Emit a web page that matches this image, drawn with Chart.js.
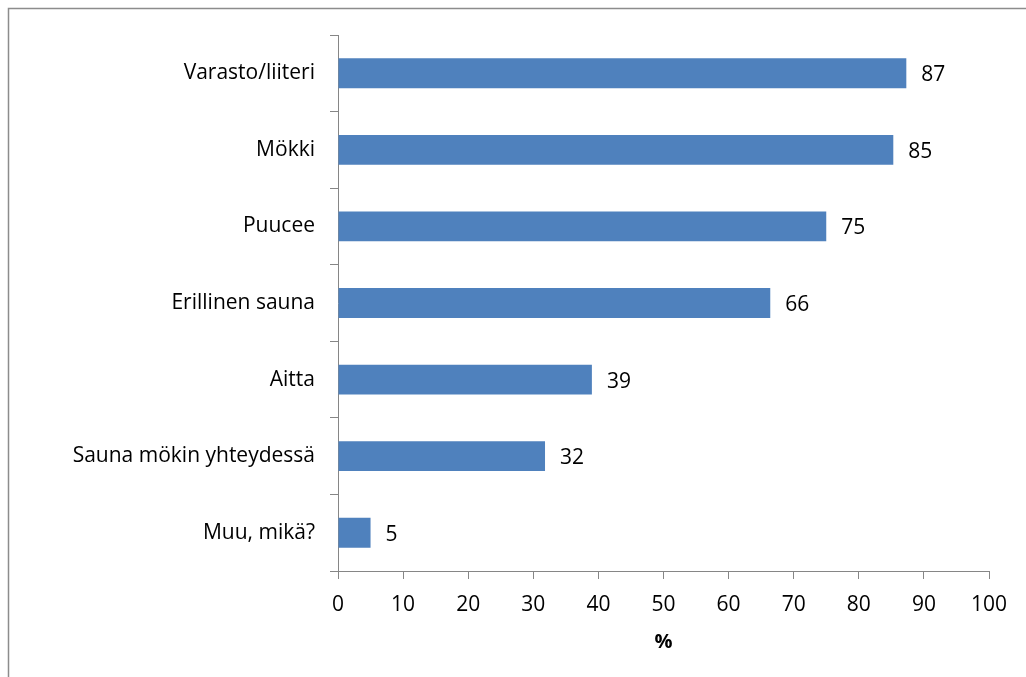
<!DOCTYPE html>
<html>
<head>
<meta charset="utf-8">
<script src="https://cdn.jsdelivr.net/npm/chart.js@4.4.0/dist/chart.umd.min.js"></script>
<style>
  body { margin: 0; background: #fff; }
  #wrap { width: 1026px; height: 677px; }
</style>
</head>
<body>
<div id="wrap"><canvas id="rakennukset" width="1026" height="677"></canvas></div>
<script>
// rakennustyypit ja osuudet (%)
const kategoriat = ['Varasto/liiteri', 'Mökki', 'Puucee', 'Erillinen sauna', 'Aitta', 'Sauna mökin yhteydessä', 'Muu, mikä?'];
const osuudet = [87.3, 85.3, 75.0, 66.4, 39.0, 31.8, 5.0];
const xTikit = [0, 10, 20, 30, 40, 50, 60, 70, 80, 90, 100];
const xOtsikko = '%';

const fontti = "'Open Sans', 'Liberation Sans', sans-serif";
const koko = 21;
const harmaa = '#868686';

// kehys kuvan ympärille (oikea ja alareuna jäävät kuvan ulkopuolelle)
const kehys = {
    id: 'kehys',
    beforeDraw(chart) {
        const ctx = chart.ctx;
        ctx.save();
        ctx.strokeStyle = '#8c8c8c';
        ctx.lineWidth = 1.5;
        ctx.beginPath();
        ctx.moveTo(8.5, chart.height);
        ctx.lineTo(8.5, 8.5);
        ctx.lineTo(chart.width, 8.5);
        ctx.stroke();
        ctx.restore();
    }
};

// arvot palkkien perään
const arvot = {
    id: 'arvot',
    afterDatasetsDraw(chart) {
        const ctx = chart.ctx;
        ctx.save();
        ctx.font = koko + 'px ' + fontti;
        ctx.fillStyle = '#000';
        ctx.textAlign = 'left';
        ctx.textBaseline = 'middle';
        chart.getDatasetMeta(0).data.forEach((bar, i) => {
            ctx.fillText(Math.round(osuudet[i]), bar.x + 15, bar.y + 2);
        });
        ctx.restore();
    }
};

new Chart(document.getElementById('rakennukset'), {
    type: 'bar',
    data: {
        labels: kategoriat,
        datasets: [{
            data: osuudet,
            backgroundColor: '#4f81bd',
            borderWidth: 0,
            barPercentage: 0.39,
            categoryPercentage: 1
        }]
    },
    options: {
        indexAxis: 'y',
        responsive: false,
        animation: false,
        layout: {padding: {top: 35, right: 37, bottom: 0, left: 0}},
        plugins: {legend: {display: false}, tooltip: {enabled: false}},
        scales: {
            x: {
                min: 0,
                max: 100,
                afterBuildTicks: (scale) => { scale.ticks = xTikit.map(v => ({value: v})); },
                grid: {drawOnChartArea: false, tickLength: 8, color: harmaa},
                border: {color: harmaa, width: 1},
                ticks: {color: '#000', font: {family: fontti, size: koko}, padding: 13, maxRotation: 0},
                title: {display: true, text: xOtsikko, color: '#000', font: {family: fontti, size: koko - 1, weight: 'bold'}, padding: {top: 0, bottom: 23}},
                afterFit: (scale) => { scale.height = 106; }
            },
            y: {
                grid: {drawOnChartArea: false, tickLength: 8, color: harmaa, offset: true},
                border: {color: harmaa, width: 1},
                ticks: {color: '#000', font: {family: fontti, size: koko}, padding: 15},
                afterFit: (scale) => { scale.width = 338; }
            }
        }
    },
    plugins: [kehys, arvot]
});
</script>
</body>
</html>
